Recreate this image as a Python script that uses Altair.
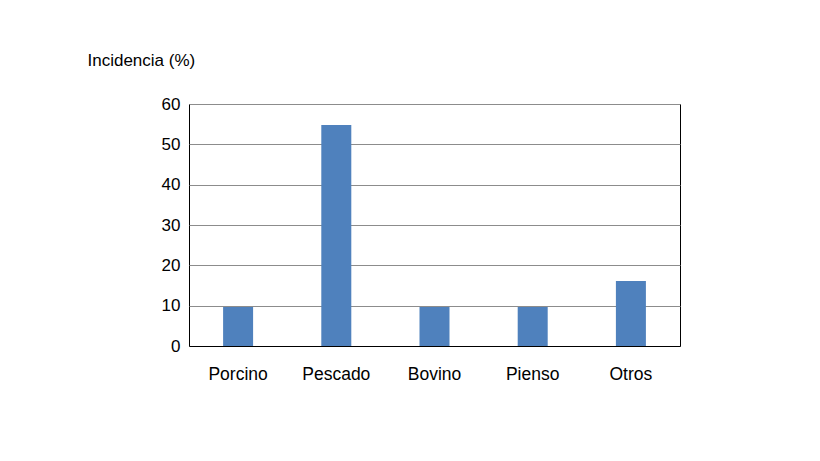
import pandas as pd
import altair as alt

categorias = ["Porcino", "Pescado", "Bovino", "Pienso", "Otros"]
incidencia = [9.7, 54.8, 9.7, 9.7, 16.1]

df = pd.DataFrame({"categoria": categorias, "incidencia": incidencia})

chart = alt.Chart(df).mark_bar(size=30, color="#4f81bd").encode(
    x=alt.X("categoria:N", sort=categorias, title=None,
            scale=alt.Scale(paddingInner=0, paddingOuter=0),
            axis=alt.Axis(labelAngle=0, ticks=False, labelPadding=19, domain=True,
                          domainColor="black", labelFontSize=17.5, labelColor="black",
                          labelFont="Liberation Sans")),
    y=alt.Y("incidencia:Q", title="Incidencia (%)",
            scale=alt.Scale(domain=[0, 60], nice=False),
            axis=alt.Axis(values=[0, 10, 20, 30, 40, 50, 60], ticks=False, domain=False,
                          labelPadding=9, labelFontSize=17, labelColor="black",
                          labelFont="Liberation Sans", gridColor="#8c8c8c",
                          titleAngle=0, titleAlign="left", titleBaseline="alphabetic",
                          titleX=-102, titleY=-39, titleFontSize=17,
                          titleFontWeight="normal", titleColor="black",
                          titleFont="Liberation Sans")),
).properties(
    width=491,
    height=242,
    autosize=alt.AutoSizeParams(type="none"),
    padding={"left": 181, "top": 96, "right": 60, "bottom": 80},
).configure_view(stroke="black", strokeWidth=1)

chart.save("out.html", embed_options={"renderer": "svg", "actions": False})
